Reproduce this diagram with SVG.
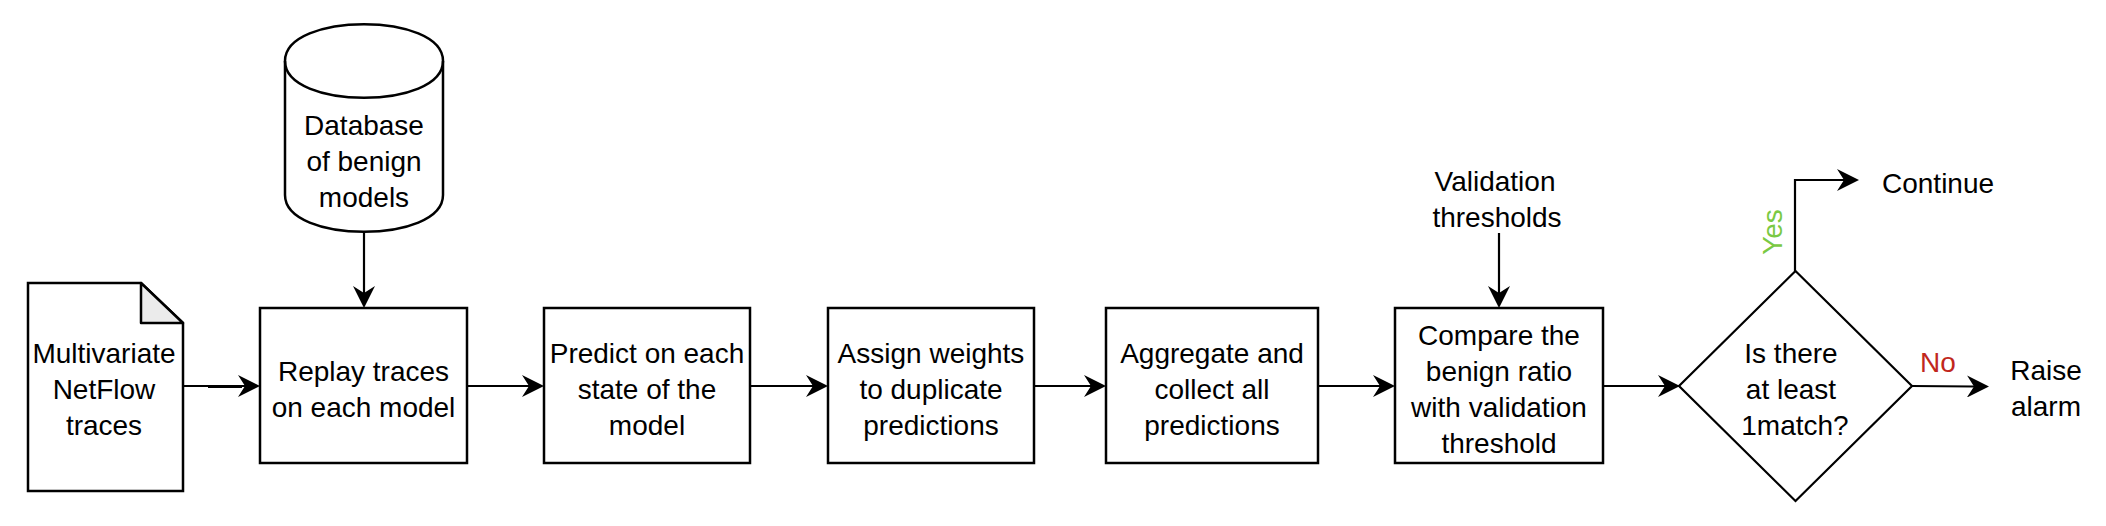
<svg xmlns="http://www.w3.org/2000/svg" width="2106" height="526" viewBox="0 0 2106 526">
<defs>
<style>
.shape{fill:#fff;stroke:#000;stroke-width:2.5}
.fold{fill:#ebebeb;stroke:#000;stroke-width:2.5;stroke-linejoin:round}
.edge{fill:none;stroke:#000;stroke-width:2.2}
text{font-family:"Liberation Sans",Arial,Helvetica,sans-serif;font-size:28px;fill:#000}
.c{text-anchor:middle}
.yes{fill:#7AC943}
.no{fill:#C1271D}
</style>
<marker id="arr" markerUnits="userSpaceOnUse" viewBox="0 0 22 22" markerWidth="22" markerHeight="22" refX="7" refY="11" orient="auto">
<path d="M22,11 L0,0 L7,11 L0,22 Z" fill="#000"/>
</marker>
</defs>
<rect width="2106" height="526" fill="#fff"/>

<g id="connectors">
<path class="edge" d="M183,386 L245,386" marker-end="url(#arr)"/>
<path class="edge" d="M208,387 L242,387"/>
<path class="edge" d="M364,232 L364,293" marker-end="url(#arr)"/>
<path class="edge" d="M467,386 L529,386" marker-end="url(#arr)"/>
<path class="edge" d="M750,386 L813,386" marker-end="url(#arr)"/>
<path class="edge" d="M1034,386 L1091,386" marker-end="url(#arr)"/>
<path class="edge" d="M1318,386 L1380,386" marker-end="url(#arr)"/>
<path class="edge" d="M1499,233 L1499,293" marker-end="url(#arr)"/>
<path class="edge" d="M1603,386 L1665,386" marker-end="url(#arr)"/>
<path class="edge" d="M1795,271 L1795,180 L1844,180" marker-end="url(#arr)"/>
<path class="edge" d="M1912,386 L1974,386.5" marker-end="url(#arr)"/>
<text class="yes" transform="translate(1782,232) rotate(-90)" text-anchor="middle">Yes</text>
<text class="no" x="1920" y="372">No</text>
</g>

<g id="doc">
<path class="shape" d="M28,283 L141,283 L183,323 L183,491 L28,491 Z"/>
<path class="fold" d="M141,283 L141,323 L183,323 Z"/>
<text class="c" x="104" y="363">Multivariate</text>
<text class="c" x="104" y="399">NetFlow</text>
<text class="c" x="104" y="435">traces</text>
</g>

<g id="database">
<path class="shape" d="M285,61 C285,12 443,12 443,61 L443,195 C443,244 285,244 285,195 Z"/>
<path class="edge" d="M285,61 C285,110 443,110 443,61" style="stroke-width:2.5"/>
<text class="c" x="364" y="135">Database</text>
<text class="c" x="364" y="171">of benign</text>
<text class="c" x="364" y="207">models</text>
</g>

<g id="replay">
<rect class="shape" x="260" y="308" width="207" height="155"/>
<text class="c" x="363.5" y="381">Replay traces</text>
<text class="c" x="363.5" y="417">on each model</text>
</g>

<g id="predict">
<rect class="shape" x="544" y="308" width="206" height="155"/>
<text class="c" x="647" y="363">Predict on each</text>
<text class="c" x="647" y="399">state of the</text>
<text class="c" x="647" y="435">model</text>
</g>

<g id="assign">
<rect class="shape" x="828" y="308" width="206" height="155"/>
<text class="c" x="931" y="363">Assign weights</text>
<text class="c" x="931" y="399">to duplicate</text>
<text class="c" x="931" y="435">predictions</text>
</g>

<g id="aggregate">
<rect class="shape" x="1106" y="308" width="212" height="155"/>
<text class="c" x="1212" y="363">Aggregate and</text>
<text class="c" x="1212" y="399">collect all</text>
<text class="c" x="1212" y="435">predictions</text>
</g>

<g id="validation">
<text class="c" x="1495" y="191">Validation</text>
<text class="c" x="1497" y="227">thresholds</text>
</g>

<g id="compare">
<rect class="shape" x="1395" y="308" width="208" height="155"/>
<text class="c" x="1499" y="345">Compare the</text>
<text class="c" x="1499" y="381">benign ratio</text>
<text class="c" x="1499" y="417">with validation</text>
<text class="c" x="1499" y="453">threshold</text>
</g>

<g id="decision">
<path class="shape" d="M1795.5,271 L1912,386 L1795.5,501 L1679,386 Z" style="stroke-width:2.2"/>
<text class="c" x="1791" y="363">Is there</text>
<text class="c" x="1791" y="399">at least</text>
<text class="c" x="1795" y="435">1match?</text>
</g>

<g id="continue">
<text x="1882" y="193">Continue</text>
</g>

<g id="raise">
<text class="c" x="2046" y="380">Raise</text>
<text class="c" x="2046" y="416">alarm</text>
</g>
</svg>
